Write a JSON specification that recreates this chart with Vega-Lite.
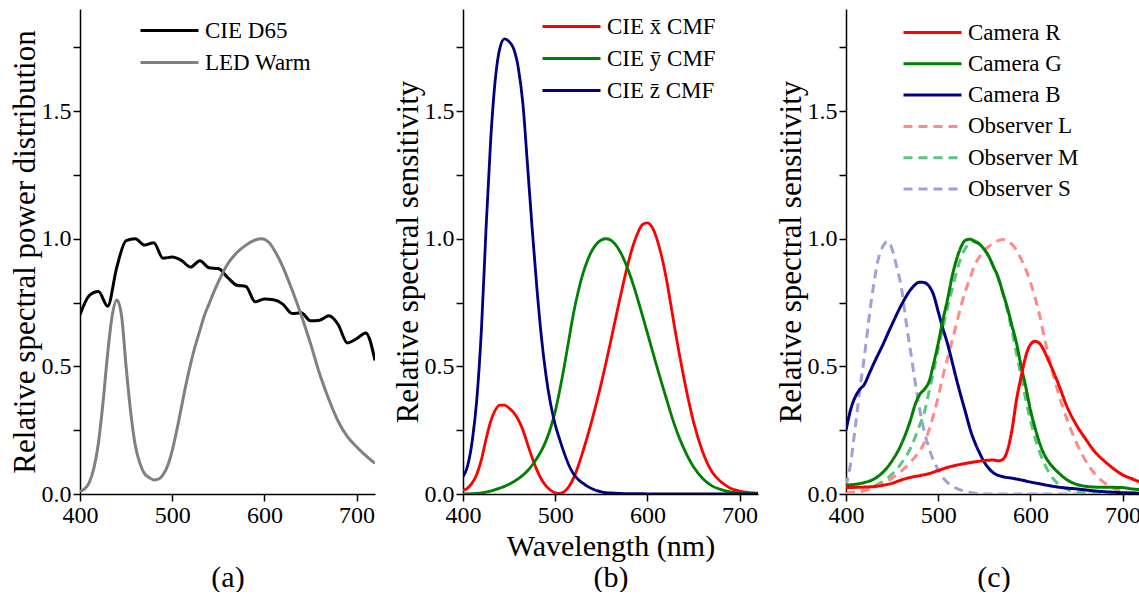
{
"$schema":"https://vega.github.io/schema/vega-lite/v6.json",
"background":"white",
"padding":{"left":9,"top":9,"right":0,"bottom":0},
"spacing":88,
"bounds":"flush",
"resolve":{"scale":{"color":"independent","strokeDash":"independent","strokeWidth":"independent","x":"independent","y":"independent"},"legend":{"color":"independent","strokeDash":"independent","strokeWidth":"independent"}},
"config":{
 "view":{"stroke":null},
 "font":"'Liberation Serif', serif",
 "axis":{"domainColor":"#000","domainWidth":1.5,"tickColor":"#000","tickWidth":1.5,"tickSize":7,"labelFont":"'Liberation Serif', serif","labelFontSize":24,"labelColor":"#000","titleFont":"'Liberation Serif', serif","titleFontSize":30,"titleFontWeight":"normal","titleColor":"#000","grid":false,"labelOverlap":false,"labelFlush":false},
 "axisX":{"labelPadding":2,"titlePadding":4,"titleLineHeight":31},
 "axisY":{"labelPadding":2,"titlePadding":0,"titleFontSize":31},
 "legend":{"orient":"none","labelFont":"'Liberation Serif', serif","labelFontSize":23,"labelColor":"#000","symbolType":"M-2.5,0H2.5","symbolSize":538,"symbolStrokeWidth":3,"labelOffset":22,"rowPadding":6,"padding":0}
},
"hconcat":[
{
 "width":295,"height":485,
 "data":{"values":[
{"w":400,"s":"CIE D65","v":0.702},{"w":410,"s":"CIE D65","v":0.777},{"w":420,"s":"CIE D65","v":0.793},{"w":430,"s":"CIE D65","v":0.736},{"w":440,"s":"CIE D65","v":0.890},{"w":450,"s":"CIE D65","v":0.993},{"w":460,"s":"CIE D65","v":1.0},{"w":470,"s":"CIE D65","v":0.975},{"w":480,"s":"CIE D65","v":0.984},{"w":490,"s":"CIE D65","v":0.924},{"w":500,"s":"CIE D65","v":0.928},{"w":510,"s":"CIE D65","v":0.915},{"w":520,"s":"CIE D65","v":0.889},{"w":530,"s":"CIE D65","v":0.914},{"w":540,"s":"CIE D65","v":0.886},{"w":550,"s":"CIE D65","v":0.883},{"w":560,"s":"CIE D65","v":0.849},{"w":570,"s":"CIE D65","v":0.818},{"w":580,"s":"CIE D65","v":0.813},{"w":590,"s":"CIE D65","v":0.753},{"w":600,"s":"CIE D65","v":0.764},{"w":610,"s":"CIE D65","v":0.761},{"w":620,"s":"CIE D65","v":0.744},{"w":630,"s":"CIE D65","v":0.707},{"w":640,"s":"CIE D65","v":0.710},{"w":650,"s":"CIE D65","v":0.679},{"w":660,"s":"CIE D65","v":0.681},{"w":670,"s":"CIE D65","v":0.698},{"w":680,"s":"CIE D65","v":0.664},{"w":690,"s":"CIE D65","v":0.592},{"w":700,"s":"CIE D65","v":0.608},{"w":710,"s":"CIE D65","v":0.631},{"w":720,"s":"CIE D65","v":0.523},
{"w":400,"s":"LED Warm","v":0.01},{"w":405,"s":"LED Warm","v":0.02},{"w":410,"s":"LED Warm","v":0.045},{"w":415,"s":"LED Warm","v":0.10},{"w":420,"s":"LED Warm","v":0.20},{"w":425,"s":"LED Warm","v":0.36},{"w":430,"s":"LED Warm","v":0.55},{"w":435,"s":"LED Warm","v":0.70},{"w":440,"s":"LED Warm","v":0.76},{"w":445,"s":"LED Warm","v":0.70},{"w":450,"s":"LED Warm","v":0.50},{"w":455,"s":"LED Warm","v":0.32},{"w":460,"s":"LED Warm","v":0.19},{"w":465,"s":"LED Warm","v":0.12},{"w":470,"s":"LED Warm","v":0.08},{"w":475,"s":"LED Warm","v":0.065},{"w":480,"s":"LED Warm","v":0.055},{"w":485,"s":"LED Warm","v":0.058},{"w":490,"s":"LED Warm","v":0.075},{"w":495,"s":"LED Warm","v":0.11},{"w":500,"s":"LED Warm","v":0.17},{"w":505,"s":"LED Warm","v":0.25},{"w":510,"s":"LED Warm","v":0.34},{"w":515,"s":"LED Warm","v":0.43},{"w":520,"s":"LED Warm","v":0.51},{"w":525,"s":"LED Warm","v":0.58},{"w":530,"s":"LED Warm","v":0.64},{"w":535,"s":"LED Warm","v":0.70},{"w":540,"s":"LED Warm","v":0.745},{"w":545,"s":"LED Warm","v":0.79},{"w":550,"s":"LED Warm","v":0.83},{"w":560,"s":"LED Warm","v":0.90},{"w":570,"s":"LED Warm","v":0.945},{"w":580,"s":"LED Warm","v":0.975},{"w":590,"s":"LED Warm","v":0.995},{"w":597,"s":"LED Warm","v":1.0},{"w":605,"s":"LED Warm","v":0.985},{"w":610,"s":"LED Warm","v":0.96},{"w":620,"s":"LED Warm","v":0.89},{"w":630,"s":"LED Warm","v":0.80},{"w":640,"s":"LED Warm","v":0.70},{"w":650,"s":"LED Warm","v":0.59},{"w":660,"s":"LED Warm","v":0.47},{"w":670,"s":"LED Warm","v":0.37},{"w":680,"s":"LED Warm","v":0.285},{"w":690,"s":"LED Warm","v":0.225},{"w":700,"s":"LED Warm","v":0.185},{"w":710,"s":"LED Warm","v":0.15},{"w":720,"s":"LED Warm","v":0.12}
 ]},
 "mark":{"type":"line","interpolate":"monotone","strokeWidth":3,"clip":true},
 "encoding":{
  "x":{"field":"w","type":"quantitative","scale":{"domain":[400,720],"nice":false,"zero":false},"axis":{"values":[400,500,600,700],"format":"d","title":[" ","(a)"]}},
  "y":{"field":"v","type":"quantitative","scale":{"domain":[0,1.9],"nice":false},"axis":{"values":[0,0.25,0.5,0.75,1,1.25,1.5,1.75],"labelExpr":"datum.value % 0.5 == 0 ? format(datum.value, '.1f') : ''","title":"Relative spectral power distribution"}},
  "color":{"field":"s","type":"nominal","scale":{"domain":["CIE D65","LED Warm"],"range":["#000000","#808080"]},"legend":{"title":null,"legendX":76,"legendY":8}}
 }
},
{
 "width":295,"height":485,
 "data":{"values":[
{"w":400,"s":"CIE x\u0304 CMF","v":0.01431},{"w":405,"s":"CIE x\u0304 CMF","v":0.02319},{"w":410,"s":"CIE x\u0304 CMF","v":0.04351},{"w":415,"s":"CIE x\u0304 CMF","v":0.07763},{"w":420,"s":"CIE x\u0304 CMF","v":0.13438},{"w":425,"s":"CIE x\u0304 CMF","v":0.21477},{"w":430,"s":"CIE x\u0304 CMF","v":0.2839},{"w":435,"s":"CIE x\u0304 CMF","v":0.3285},{"w":440,"s":"CIE x\u0304 CMF","v":0.34828},{"w":445,"s":"CIE x\u0304 CMF","v":0.34806},{"w":450,"s":"CIE x\u0304 CMF","v":0.3362},{"w":455,"s":"CIE x\u0304 CMF","v":0.3187},{"w":460,"s":"CIE x\u0304 CMF","v":0.2908},{"w":465,"s":"CIE x\u0304 CMF","v":0.2511},{"w":470,"s":"CIE x\u0304 CMF","v":0.19536},{"w":475,"s":"CIE x\u0304 CMF","v":0.1421},{"w":480,"s":"CIE x\u0304 CMF","v":0.09564},{"w":485,"s":"CIE x\u0304 CMF","v":0.05795},{"w":490,"s":"CIE x\u0304 CMF","v":0.03201},{"w":495,"s":"CIE x\u0304 CMF","v":0.0147},{"w":500,"s":"CIE x\u0304 CMF","v":0.0049},{"w":505,"s":"CIE x\u0304 CMF","v":0.0024},{"w":510,"s":"CIE x\u0304 CMF","v":0.0093},{"w":515,"s":"CIE x\u0304 CMF","v":0.0291},{"w":520,"s":"CIE x\u0304 CMF","v":0.06327},{"w":525,"s":"CIE x\u0304 CMF","v":0.1096},{"w":530,"s":"CIE x\u0304 CMF","v":0.1655},{"w":535,"s":"CIE x\u0304 CMF","v":0.22575},{"w":540,"s":"CIE x\u0304 CMF","v":0.2904},{"w":545,"s":"CIE x\u0304 CMF","v":0.3597},{"w":550,"s":"CIE x\u0304 CMF","v":0.43345},{"w":555,"s":"CIE x\u0304 CMF","v":0.51205},{"w":560,"s":"CIE x\u0304 CMF","v":0.5945},{"w":565,"s":"CIE x\u0304 CMF","v":0.6784},{"w":570,"s":"CIE x\u0304 CMF","v":0.7621},{"w":575,"s":"CIE x\u0304 CMF","v":0.8425},{"w":580,"s":"CIE x\u0304 CMF","v":0.9163},{"w":585,"s":"CIE x\u0304 CMF","v":0.9786},{"w":590,"s":"CIE x\u0304 CMF","v":1.0263},{"w":595,"s":"CIE x\u0304 CMF","v":1.0567},{"w":600,"s":"CIE x\u0304 CMF","v":1.0622},{"w":605,"s":"CIE x\u0304 CMF","v":1.0456},{"w":610,"s":"CIE x\u0304 CMF","v":1.0026},{"w":615,"s":"CIE x\u0304 CMF","v":0.9384},{"w":620,"s":"CIE x\u0304 CMF","v":0.85445},{"w":625,"s":"CIE x\u0304 CMF","v":0.7514},{"w":630,"s":"CIE x\u0304 CMF","v":0.6424},{"w":635,"s":"CIE x\u0304 CMF","v":0.5419},{"w":640,"s":"CIE x\u0304 CMF","v":0.4479},{"w":645,"s":"CIE x\u0304 CMF","v":0.3608},{"w":650,"s":"CIE x\u0304 CMF","v":0.2835},{"w":660,"s":"CIE x\u0304 CMF","v":0.1649},{"w":670,"s":"CIE x\u0304 CMF","v":0.0874},{"w":680,"s":"CIE x\u0304 CMF","v":0.04677},{"w":690,"s":"CIE x\u0304 CMF","v":0.0227},{"w":700,"s":"CIE x\u0304 CMF","v":0.01136},{"w":710,"s":"CIE x\u0304 CMF","v":0.00579},{"w":720,"s":"CIE x\u0304 CMF","v":0.0029},
{"w":400,"s":"CIE y\u0304 CMF","v":0.0004},{"w":405,"s":"CIE y\u0304 CMF","v":0.00064},{"w":410,"s":"CIE y\u0304 CMF","v":0.00121},{"w":415,"s":"CIE y\u0304 CMF","v":0.00218},{"w":420,"s":"CIE y\u0304 CMF","v":0.004},{"w":425,"s":"CIE y\u0304 CMF","v":0.0073},{"w":430,"s":"CIE y\u0304 CMF","v":0.0116},{"w":435,"s":"CIE y\u0304 CMF","v":0.01684},{"w":440,"s":"CIE y\u0304 CMF","v":0.023},{"w":445,"s":"CIE y\u0304 CMF","v":0.0298},{"w":450,"s":"CIE y\u0304 CMF","v":0.038},{"w":455,"s":"CIE y\u0304 CMF","v":0.048},{"w":460,"s":"CIE y\u0304 CMF","v":0.06},{"w":465,"s":"CIE y\u0304 CMF","v":0.0739},{"w":470,"s":"CIE y\u0304 CMF","v":0.09098},{"w":475,"s":"CIE y\u0304 CMF","v":0.1126},{"w":480,"s":"CIE y\u0304 CMF","v":0.13902},{"w":485,"s":"CIE y\u0304 CMF","v":0.1693},{"w":490,"s":"CIE y\u0304 CMF","v":0.20802},{"w":495,"s":"CIE y\u0304 CMF","v":0.2586},{"w":500,"s":"CIE y\u0304 CMF","v":0.323},{"w":505,"s":"CIE y\u0304 CMF","v":0.4073},{"w":510,"s":"CIE y\u0304 CMF","v":0.503},{"w":515,"s":"CIE y\u0304 CMF","v":0.6082},{"w":520,"s":"CIE y\u0304 CMF","v":0.71},{"w":525,"s":"CIE y\u0304 CMF","v":0.7932},{"w":530,"s":"CIE y\u0304 CMF","v":0.862},{"w":535,"s":"CIE y\u0304 CMF","v":0.91485},{"w":540,"s":"CIE y\u0304 CMF","v":0.954},{"w":545,"s":"CIE y\u0304 CMF","v":0.9803},{"w":550,"s":"CIE y\u0304 CMF","v":0.99495},{"w":555,"s":"CIE y\u0304 CMF","v":1.0},{"w":560,"s":"CIE y\u0304 CMF","v":0.995},{"w":565,"s":"CIE y\u0304 CMF","v":0.9786},{"w":570,"s":"CIE y\u0304 CMF","v":0.952},{"w":575,"s":"CIE y\u0304 CMF","v":0.9154},{"w":580,"s":"CIE y\u0304 CMF","v":0.87},{"w":585,"s":"CIE y\u0304 CMF","v":0.8163},{"w":590,"s":"CIE y\u0304 CMF","v":0.757},{"w":595,"s":"CIE y\u0304 CMF","v":0.6949},{"w":600,"s":"CIE y\u0304 CMF","v":0.631},{"w":605,"s":"CIE y\u0304 CMF","v":0.5668},{"w":610,"s":"CIE y\u0304 CMF","v":0.503},{"w":615,"s":"CIE y\u0304 CMF","v":0.4412},{"w":620,"s":"CIE y\u0304 CMF","v":0.381},{"w":625,"s":"CIE y\u0304 CMF","v":0.321},{"w":630,"s":"CIE y\u0304 CMF","v":0.265},{"w":635,"s":"CIE y\u0304 CMF","v":0.217},{"w":640,"s":"CIE y\u0304 CMF","v":0.175},{"w":645,"s":"CIE y\u0304 CMF","v":0.1382},{"w":650,"s":"CIE y\u0304 CMF","v":0.107},{"w":660,"s":"CIE y\u0304 CMF","v":0.061},{"w":670,"s":"CIE y\u0304 CMF","v":0.032},{"w":680,"s":"CIE y\u0304 CMF","v":0.017},{"w":690,"s":"CIE y\u0304 CMF","v":0.00821},{"w":700,"s":"CIE y\u0304 CMF","v":0.0041},{"w":710,"s":"CIE y\u0304 CMF","v":0.00209},{"w":720,"s":"CIE y\u0304 CMF","v":0.00105},
{"w":400,"s":"CIE z\u0304 CMF","v":0.06785},{"w":405,"s":"CIE z\u0304 CMF","v":0.1102},{"w":410,"s":"CIE z\u0304 CMF","v":0.2074},{"w":415,"s":"CIE z\u0304 CMF","v":0.3713},{"w":420,"s":"CIE z\u0304 CMF","v":0.6456},{"w":425,"s":"CIE z\u0304 CMF","v":1.03905},{"w":430,"s":"CIE z\u0304 CMF","v":1.3856},{"w":435,"s":"CIE z\u0304 CMF","v":1.62296},{"w":440,"s":"CIE z\u0304 CMF","v":1.74706},{"w":445,"s":"CIE z\u0304 CMF","v":1.7826},{"w":450,"s":"CIE z\u0304 CMF","v":1.77211},{"w":455,"s":"CIE z\u0304 CMF","v":1.7441},{"w":460,"s":"CIE z\u0304 CMF","v":1.6692},{"w":465,"s":"CIE z\u0304 CMF","v":1.5281},{"w":470,"s":"CIE z\u0304 CMF","v":1.28764},{"w":475,"s":"CIE z\u0304 CMF","v":1.0419},{"w":480,"s":"CIE z\u0304 CMF","v":0.81295},{"w":485,"s":"CIE z\u0304 CMF","v":0.6162},{"w":490,"s":"CIE z\u0304 CMF","v":0.46518},{"w":495,"s":"CIE z\u0304 CMF","v":0.3533},{"w":500,"s":"CIE z\u0304 CMF","v":0.272},{"w":505,"s":"CIE z\u0304 CMF","v":0.2123},{"w":510,"s":"CIE z\u0304 CMF","v":0.1582},{"w":515,"s":"CIE z\u0304 CMF","v":0.1117},{"w":520,"s":"CIE z\u0304 CMF","v":0.07825},{"w":525,"s":"CIE z\u0304 CMF","v":0.05725},{"w":530,"s":"CIE z\u0304 CMF","v":0.04216},{"w":535,"s":"CIE z\u0304 CMF","v":0.02984},{"w":540,"s":"CIE z\u0304 CMF","v":0.0203},{"w":545,"s":"CIE z\u0304 CMF","v":0.0134},{"w":550,"s":"CIE z\u0304 CMF","v":0.00875},{"w":555,"s":"CIE z\u0304 CMF","v":0.00575},{"w":560,"s":"CIE z\u0304 CMF","v":0.0039},{"w":570,"s":"CIE z\u0304 CMF","v":0.0021},{"w":580,"s":"CIE z\u0304 CMF","v":0.00165},{"w":590,"s":"CIE z\u0304 CMF","v":0.0011},{"w":600,"s":"CIE z\u0304 CMF","v":0.0008},{"w":610,"s":"CIE z\u0304 CMF","v":0.00034},{"w":620,"s":"CIE z\u0304 CMF","v":0.00019},{"w":630,"s":"CIE z\u0304 CMF","v":0.00005},{"w":640,"s":"CIE z\u0304 CMF","v":0.00002},{"w":650,"s":"CIE z\u0304 CMF","v":0},{"w":680,"s":"CIE z\u0304 CMF","v":0},{"w":720,"s":"CIE z\u0304 CMF","v":0}
 ]},
 "mark":{"type":"line","interpolate":"monotone","strokeWidth":2.8,"clip":true},
 "encoding":{
  "x":{"field":"w","type":"quantitative","scale":{"domain":[400,720],"nice":false,"zero":false},"axis":{"values":[400,500,600,700],"format":"d","title":["Wavelength (nm)","(b)"]}},
  "y":{"field":"v","type":"quantitative","scale":{"domain":[0,1.9],"nice":false},"axis":{"values":[0,0.25,0.5,0.75,1,1.25,1.5,1.75],"labelExpr":"datum.value % 0.5 == 0 ? format(datum.value, '.1f') : ''","title":"Relative spectral sensitivity"}},
  "color":{"field":"s","type":"nominal","scale":{"domain":["CIE x\u0304 CMF","CIE y\u0304 CMF","CIE z\u0304 CMF"],"range":["#ff0000","#008000","#000080"]},"legend":{"title":null,"legendX":95,"legendY":4}}
 }
},
{
 "width":295,"height":485,
 "data":{"values":[
{"w":400,"s":"Observer S","v":0.03},{"w":405,"s":"Observer S","v":0.12},{"w":410,"s":"Observer S","v":0.26},{"w":415,"s":"Observer S","v":0.41},{"w":420,"s":"Observer S","v":0.54},{"w":425,"s":"Observer S","v":0.69},{"w":430,"s":"Observer S","v":0.82},{"w":435,"s":"Observer S","v":0.92},{"w":440,"s":"Observer S","v":0.97},{"w":445,"s":"Observer S","v":0.99},{"w":450,"s":"Observer S","v":0.96},{"w":455,"s":"Observer S","v":0.89},{"w":460,"s":"Observer S","v":0.81},{"w":465,"s":"Observer S","v":0.68},{"w":470,"s":"Observer S","v":0.56},{"w":475,"s":"Observer S","v":0.44},{"w":480,"s":"Observer S","v":0.33},{"w":485,"s":"Observer S","v":0.245},{"w":490,"s":"Observer S","v":0.18},{"w":495,"s":"Observer S","v":0.13},{"w":500,"s":"Observer S","v":0.095},{"w":505,"s":"Observer S","v":0.065},{"w":510,"s":"Observer S","v":0.045},{"w":520,"s":"Observer S","v":0.022},{"w":530,"s":"Observer S","v":0.009},{"w":540,"s":"Observer S","v":0.003},{"w":550,"s":"Observer S","v":0.001},{"w":560,"s":"Observer S","v":0},{"w":640,"s":"Observer S","v":0},{"w":720,"s":"Observer S","v":0},
{"w":400,"s":"Observer M","v":0.002},{"w":410,"s":"Observer M","v":0.007},{"w":420,"s":"Observer M","v":0.015},{"w":430,"s":"Observer M","v":0.03},{"w":440,"s":"Observer M","v":0.05},{"w":450,"s":"Observer M","v":0.078},{"w":460,"s":"Observer M","v":0.12},{"w":470,"s":"Observer M","v":0.18},{"w":480,"s":"Observer M","v":0.27},{"w":485,"s":"Observer M","v":0.32},{"w":490,"s":"Observer M","v":0.4},{"w":495,"s":"Observer M","v":0.48},{"w":500,"s":"Observer M","v":0.57},{"w":505,"s":"Observer M","v":0.65},{"w":510,"s":"Observer M","v":0.73},{"w":515,"s":"Observer M","v":0.8},{"w":520,"s":"Observer M","v":0.87},{"w":525,"s":"Observer M","v":0.93},{"w":530,"s":"Observer M","v":0.965},{"w":535,"s":"Observer M","v":0.985},{"w":540,"s":"Observer M","v":0.992},{"w":545,"s":"Observer M","v":0.98},{"w":550,"s":"Observer M","v":0.96},{"w":555,"s":"Observer M","v":0.93},{"w":560,"s":"Observer M","v":0.89},{"w":565,"s":"Observer M","v":0.845},{"w":570,"s":"Observer M","v":0.79},{"w":575,"s":"Observer M","v":0.72},{"w":580,"s":"Observer M","v":0.64},{"w":585,"s":"Observer M","v":0.55},{"w":590,"s":"Observer M","v":0.46},{"w":595,"s":"Observer M","v":0.37},{"w":600,"s":"Observer M","v":0.29},{"w":605,"s":"Observer M","v":0.22},{"w":610,"s":"Observer M","v":0.165},{"w":615,"s":"Observer M","v":0.12},{"w":620,"s":"Observer M","v":0.085},{"w":630,"s":"Observer M","v":0.04},{"w":640,"s":"Observer M","v":0.018},{"w":650,"s":"Observer M","v":0.008},{"w":660,"s":"Observer M","v":0.004},{"w":680,"s":"Observer M","v":0.001},{"w":700,"s":"Observer M","v":0},{"w":720,"s":"Observer M","v":0},
{"w":400,"s":"Observer L","v":0.002},{"w":410,"s":"Observer L","v":0.006},{"w":420,"s":"Observer L","v":0.013},{"w":430,"s":"Observer L","v":0.025},{"w":440,"s":"Observer L","v":0.04},{"w":450,"s":"Observer L","v":0.062},{"w":460,"s":"Observer L","v":0.09},{"w":470,"s":"Observer L","v":0.125},{"w":480,"s":"Observer L","v":0.17},{"w":485,"s":"Observer L","v":0.2},{"w":490,"s":"Observer L","v":0.25},{"w":495,"s":"Observer L","v":0.31},{"w":500,"s":"Observer L","v":0.38},{"w":505,"s":"Observer L","v":0.46},{"w":510,"s":"Observer L","v":0.53},{"w":515,"s":"Observer L","v":0.6},{"w":520,"s":"Observer L","v":0.67},{"w":525,"s":"Observer L","v":0.74},{"w":530,"s":"Observer L","v":0.8},{"w":535,"s":"Observer L","v":0.85},{"w":540,"s":"Observer L","v":0.9},{"w":545,"s":"Observer L","v":0.93},{"w":550,"s":"Observer L","v":0.955},{"w":555,"s":"Observer L","v":0.97},{"w":560,"s":"Observer L","v":0.983},{"w":565,"s":"Observer L","v":0.993},{"w":570,"s":"Observer L","v":0.997},{"w":575,"s":"Observer L","v":0.99},{"w":580,"s":"Observer L","v":0.978},{"w":585,"s":"Observer L","v":0.955},{"w":590,"s":"Observer L","v":0.92},{"w":595,"s":"Observer L","v":0.88},{"w":600,"s":"Observer L","v":0.83},{"w":605,"s":"Observer L","v":0.77},{"w":610,"s":"Observer L","v":0.7},{"w":615,"s":"Observer L","v":0.615},{"w":620,"s":"Observer L","v":0.54},{"w":625,"s":"Observer L","v":0.465},{"w":630,"s":"Observer L","v":0.4},{"w":640,"s":"Observer L","v":0.29},{"w":650,"s":"Observer L","v":0.2},{"w":660,"s":"Observer L","v":0.13},{"w":670,"s":"Observer L","v":0.078},{"w":680,"s":"Observer L","v":0.045},{"w":690,"s":"Observer L","v":0.022},{"w":700,"s":"Observer L","v":0.01},{"w":710,"s":"Observer L","v":0.005},{"w":720,"s":"Observer L","v":0.002},
{"w":400,"s":"Camera B","v":0.25},{"w":405,"s":"Camera B","v":0.33},{"w":410,"s":"Camera B","v":0.38},{"w":415,"s":"Camera B","v":0.41},{"w":420,"s":"Camera B","v":0.43},{"w":425,"s":"Camera B","v":0.47},{"w":430,"s":"Camera B","v":0.51},{"w":440,"s":"Camera B","v":0.585},{"w":450,"s":"Camera B","v":0.665},{"w":460,"s":"Camera B","v":0.74},{"w":470,"s":"Camera B","v":0.8},{"w":475,"s":"Camera B","v":0.82},{"w":480,"s":"Camera B","v":0.83},{"w":485,"s":"Camera B","v":0.828},{"w":490,"s":"Camera B","v":0.815},{"w":495,"s":"Camera B","v":0.78},{"w":500,"s":"Camera B","v":0.715},{"w":505,"s":"Camera B","v":0.65},{"w":510,"s":"Camera B","v":0.59},{"w":515,"s":"Camera B","v":0.52},{"w":520,"s":"Camera B","v":0.447},{"w":525,"s":"Camera B","v":0.38},{"w":530,"s":"Camera B","v":0.315},{"w":535,"s":"Camera B","v":0.25},{"w":540,"s":"Camera B","v":0.2},{"w":545,"s":"Camera B","v":0.16},{"w":550,"s":"Camera B","v":0.125},{"w":555,"s":"Camera B","v":0.1},{"w":560,"s":"Camera B","v":0.083},{"w":570,"s":"Camera B","v":0.068},{"w":580,"s":"Camera B","v":0.062},{"w":590,"s":"Camera B","v":0.055},{"w":600,"s":"Camera B","v":0.047},{"w":610,"s":"Camera B","v":0.04},{"w":620,"s":"Camera B","v":0.033},{"w":630,"s":"Camera B","v":0.027},{"w":640,"s":"Camera B","v":0.023},{"w":650,"s":"Camera B","v":0.02},{"w":660,"s":"Camera B","v":0.016},{"w":670,"s":"Camera B","v":0.012},{"w":680,"s":"Camera B","v":0.009},{"w":690,"s":"Camera B","v":0.007},{"w":700,"s":"Camera B","v":0.005},{"w":710,"s":"Camera B","v":0.004},{"w":720,"s":"Camera B","v":0.003},
{"w":400,"s":"Camera G","v":0.035},{"w":410,"s":"Camera G","v":0.038},{"w":420,"s":"Camera G","v":0.045},{"w":430,"s":"Camera G","v":0.058},{"w":440,"s":"Camera G","v":0.085},{"w":450,"s":"Camera G","v":0.13},{"w":460,"s":"Camera G","v":0.195},{"w":470,"s":"Camera G","v":0.29},{"w":475,"s":"Camera G","v":0.35},{"w":480,"s":"Camera G","v":0.39},{"w":485,"s":"Camera G","v":0.41},{"w":490,"s":"Camera G","v":0.44},{"w":495,"s":"Camera G","v":0.51},{"w":500,"s":"Camera G","v":0.59},{"w":505,"s":"Camera G","v":0.68},{"w":510,"s":"Camera G","v":0.76},{"w":515,"s":"Camera G","v":0.85},{"w":520,"s":"Camera G","v":0.92},{"w":525,"s":"Camera G","v":0.97},{"w":530,"s":"Camera G","v":0.995},{"w":535,"s":"Camera G","v":0.998},{"w":540,"s":"Camera G","v":0.988},{"w":545,"s":"Camera G","v":0.978},{"w":550,"s":"Camera G","v":0.958},{"w":555,"s":"Camera G","v":0.93},{"w":560,"s":"Camera G","v":0.89},{"w":565,"s":"Camera G","v":0.85},{"w":570,"s":"Camera G","v":0.79},{"w":575,"s":"Camera G","v":0.73},{"w":580,"s":"Camera G","v":0.66},{"w":585,"s":"Camera G","v":0.59},{"w":590,"s":"Camera G","v":0.5},{"w":595,"s":"Camera G","v":0.42},{"w":600,"s":"Camera G","v":0.33},{"w":605,"s":"Camera G","v":0.26},{"w":610,"s":"Camera G","v":0.2},{"w":615,"s":"Camera G","v":0.155},{"w":620,"s":"Camera G","v":0.125},{"w":630,"s":"Camera G","v":0.085},{"w":640,"s":"Camera G","v":0.055},{"w":650,"s":"Camera G","v":0.038},{"w":660,"s":"Camera G","v":0.03},{"w":670,"s":"Camera G","v":0.027},{"w":680,"s":"Camera G","v":0.026},{"w":690,"s":"Camera G","v":0.026},{"w":700,"s":"Camera G","v":0.025},{"w":710,"s":"Camera G","v":0.02},{"w":720,"s":"Camera G","v":0.017},
{"w":400,"s":"Camera R","v":0.025},{"w":410,"s":"Camera R","v":0.026},{"w":420,"s":"Camera R","v":0.027},{"w":430,"s":"Camera R","v":0.029},{"w":440,"s":"Camera R","v":0.034},{"w":450,"s":"Camera R","v":0.042},{"w":460,"s":"Camera R","v":0.055},{"w":470,"s":"Camera R","v":0.065},{"w":480,"s":"Camera R","v":0.072},{"w":490,"s":"Camera R","v":0.08},{"w":500,"s":"Camera R","v":0.092},{"w":510,"s":"Camera R","v":0.104},{"w":520,"s":"Camera R","v":0.113},{"w":530,"s":"Camera R","v":0.12},{"w":540,"s":"Camera R","v":0.126},{"w":550,"s":"Camera R","v":0.131},{"w":560,"s":"Camera R","v":0.133},{"w":565,"s":"Camera R","v":0.13},{"w":570,"s":"Camera R","v":0.135},{"w":575,"s":"Camera R","v":0.17},{"w":580,"s":"Camera R","v":0.25},{"w":585,"s":"Camera R","v":0.37},{"w":590,"s":"Camera R","v":0.46},{"w":595,"s":"Camera R","v":0.54},{"w":600,"s":"Camera R","v":0.585},{"w":605,"s":"Camera R","v":0.598},{"w":610,"s":"Camera R","v":0.59},{"w":615,"s":"Camera R","v":0.56},{"w":620,"s":"Camera R","v":0.52},{"w":630,"s":"Camera R","v":0.435},{"w":640,"s":"Camera R","v":0.34},{"w":650,"s":"Camera R","v":0.27},{"w":660,"s":"Camera R","v":0.215},{"w":670,"s":"Camera R","v":0.165},{"w":680,"s":"Camera R","v":0.13},{"w":690,"s":"Camera R","v":0.1},{"w":700,"s":"Camera R","v":0.075},{"w":710,"s":"Camera R","v":0.06},{"w":720,"s":"Camera R","v":0.045}
 ]},
 "mark":{"type":"line","interpolate":"monotone","clip":true},
 "encoding":{
  "x":{"field":"w","type":"quantitative","scale":{"domain":[400,720],"nice":false,"zero":false},"axis":{"values":[400,500,600,700],"format":"d","title":[" ","(c)"]}},
  "y":{"field":"v","type":"quantitative","scale":{"domain":[0,1.9],"nice":false},"axis":{"values":[0,0.25,0.5,0.75,1,1.25,1.5,1.75],"labelExpr":"datum.value % 0.5 == 0 ? format(datum.value, '.1f') : ''","title":"Relative spectral sensitivity"}},
  "color":{"field":"s","type":"nominal","scale":{"domain":["Camera R","Camera G","Camera B","Observer L","Observer M","Observer S"],"range":["#ff0000","#008000","#000080","#ff8a8a","#5cc580","#a0a0d8"]},"legend":{"title":null,"legendX":73,"legendY":10,"rowPadding":5.3}},
  "strokeDash":{"field":"s","type":"nominal","scale":{"domain":["Camera R","Camera G","Camera B","Observer L","Observer M","Observer S"],"range":[[1,0],[1,0],[1,0],[9,6],[9,6],[9,6]]}},
  "strokeWidth":{"field":"s","type":"nominal","scale":{"domain":["Camera R","Camera G","Camera B","Observer L","Observer M","Observer S"],"range":[3,3,3,1.6,1.6,1.6]}}
 }
}
]
}
